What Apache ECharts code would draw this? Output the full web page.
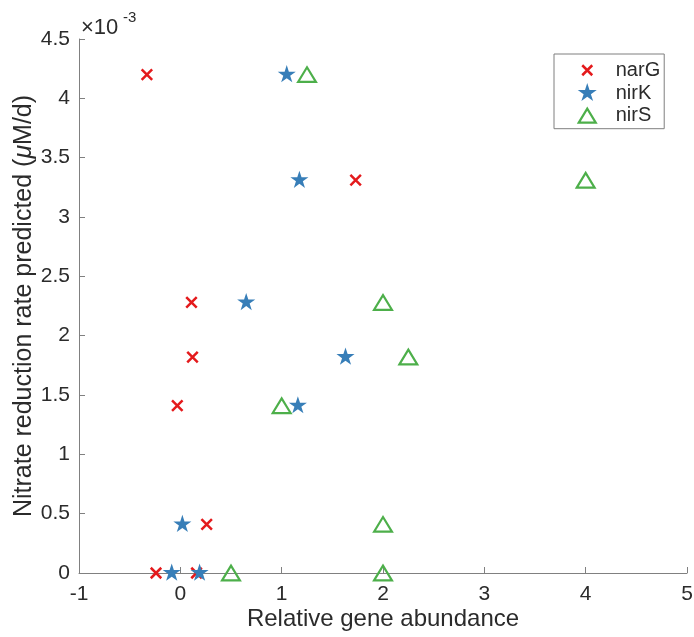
<!DOCTYPE html>
<html>
<head>
<meta charset="utf-8">
<script src="https://cdn.jsdelivr.net/npm/echarts@6/dist/echarts.min.js"></script>
<style>
  html, body { margin: 0; padding: 0; background: #fff; }
  #chart { width: 694px; height: 637px; }
</style>
</head>
<body>
<div id="chart"></div>
<script>
// Predicted nitrate reduction rate (x10^-3 uM/d), shared by all three genes
var rates = [4.2, 3.31, 2.28, 1.82, 1.41, 0.41, 0, 0];
// Relative gene abundance for each gene, aligned with rates
var narG = [-0.33, 1.73, 0.11, 0.12, -0.03, 0.26, -0.24, 0.16];
var nirK = [1.05, 1.175, 0.65, 1.63, 1.16, 0.02, -0.085, 0.19];
var nirS = [1.25, 4.0, 2.0, 2.25, 1.0, 2.0, 0.5, 2.0];
var seriesNames = ['narG', 'nirK', 'nirS'];
var xTicks = [-1, 0, 1, 2, 3, 4, 5];
var yTicks = [0, 0.5, 1, 1.5, 2, 2.5, 3, 3.5, 4, 4.5];

function pairs(xs) {
  return xs.map(function (x, i) { return [x, rates[i]]; });
}

var FONT = "'Liberation Sans', Arial, Helvetica, sans-serif";
var TXT = '#2b2b2b';
var AX = '#808080';
var RED = '#e41a1c', BLUE = '#377eb8', GREEN = '#4daf4a';

var crossPath = 'path://M0,0M20,20M5,5L15,15M15,5L5,15';
var starPath = 'path://M-10,-10M10,10M0,-10L2.245,-3.09L9.511,-3.09L3.633,1.18L5.878,8.09L0,3.82L-5.878,8.09L-3.633,1.18L-9.511,-3.09L-2.245,-3.09Z';
var triPath = 'path://M0,0M20,20M1.5,17L10,3L18.5,17Z';

var chart = echarts.init(document.getElementById('chart'), null, { renderer: 'canvas' });

var option = {
  animation: false,
  backgroundColor: '#fff',
  textStyle: { fontFamily: FONT },
  grid: { left: 79, right: 7, top: 39, bottom: 64, containLabel: false, outerBoundsMode: 'none' },
  xAxis: {
    type: 'value',
    min: xTicks[0], max: xTicks[xTicks.length - 1], interval: 1,
    name: 'Relative gene abundance',
    nameLocation: 'middle', nameGap: 34, nameMoveOverlap: false,
    nameTextStyle: { fontSize: 24, color: TXT, fontFamily: FONT },
    axisLine: { onZero: false, lineStyle: { color: AX, width: 1 } },
    axisTick: { inside: true, length: 6, lineStyle: { color: AX } },
    axisLabel: { fontSize: 21, color: TXT, margin: 11, fontFamily: FONT },
    splitLine: { show: false }
  },
  yAxis: {
    type: 'value',
    min: yTicks[0], max: yTicks[yTicks.length - 1], interval: 0.5,
    name: 'Nitrate reduction rate predicted ({it|μ}M/d)',
    nameLocation: 'middle', nameGap: 42, nameRotate: 90, nameMoveOverlap: false,
    nameTextStyle: {
      fontSize: 25, color: TXT, fontFamily: FONT,
      rich: { it: { fontSize: 25, fontStyle: 'italic', color: TXT, fontFamily: FONT } }
    },
    axisLine: { onZero: false, lineStyle: { color: AX, width: 1 } },
    axisTick: { inside: true, length: 6, lineStyle: { color: AX } },
    axisLabel: { fontSize: 21, color: TXT, margin: 9, fontFamily: FONT },
    splitLine: { show: false }
  },
  legend: {
    orient: 'vertical',
    left: 554, top: 54,
    padding: [5, 4, 2, 22],
    itemWidth: 47, itemHeight: 20, itemGap: 1.5,
    backgroundColor: '#fff',
    borderColor: '#7f7f7f', borderWidth: 1,
    textStyle: { fontSize: 20, color: TXT, fontFamily: FONT },
    data: [
      { name: seriesNames[0], icon: crossPath, itemStyle: { color: RED, borderColor: RED, borderWidth: 2.5 } },
      { name: seriesNames[1], icon: starPath, itemStyle: { color: BLUE, borderColor: BLUE, borderWidth: 0 } },
      { name: seriesNames[2], icon: triPath, itemStyle: { color: 'rgba(0,0,0,0)', borderColor: GREEN, borderWidth: 2.2 } }
    ]
  },
  graphic: [
    { type: 'text', left: 81, top: 17, style: { text: '×10', fontSize: 22, fill: TXT, font: '22px ' + FONT } },
    { type: 'text', left: 123, top: 10, style: { text: '-3', fontSize: 15, fill: TXT, font: '15px ' + FONT } }
  ],
  series: [
    {
      name: seriesNames[0], type: 'scatter', data: pairs(narG),
      symbol: crossPath, symbolSize: 21,
      itemStyle: { color: RED, borderColor: RED, borderWidth: 2.5, opacity: 1 },
      z: 2
    },
    {
      name: seriesNames[1], type: 'scatter', data: pairs(nirK),
      symbol: starPath, symbolSize: 19,
      itemStyle: { color: BLUE, borderWidth: 0, opacity: 1 },
      z: 3
    },
    {
      name: seriesNames[2], type: 'scatter', data: pairs(nirS),
      symbol: triPath, symbolSize: 21,
      itemStyle: { color: 'rgba(0,0,0,0)', borderColor: GREEN, borderWidth: 2.2, opacity: 1 },
      z: 4
    }
  ]
};

chart.setOption(option);
</script>
</body>
</html>
